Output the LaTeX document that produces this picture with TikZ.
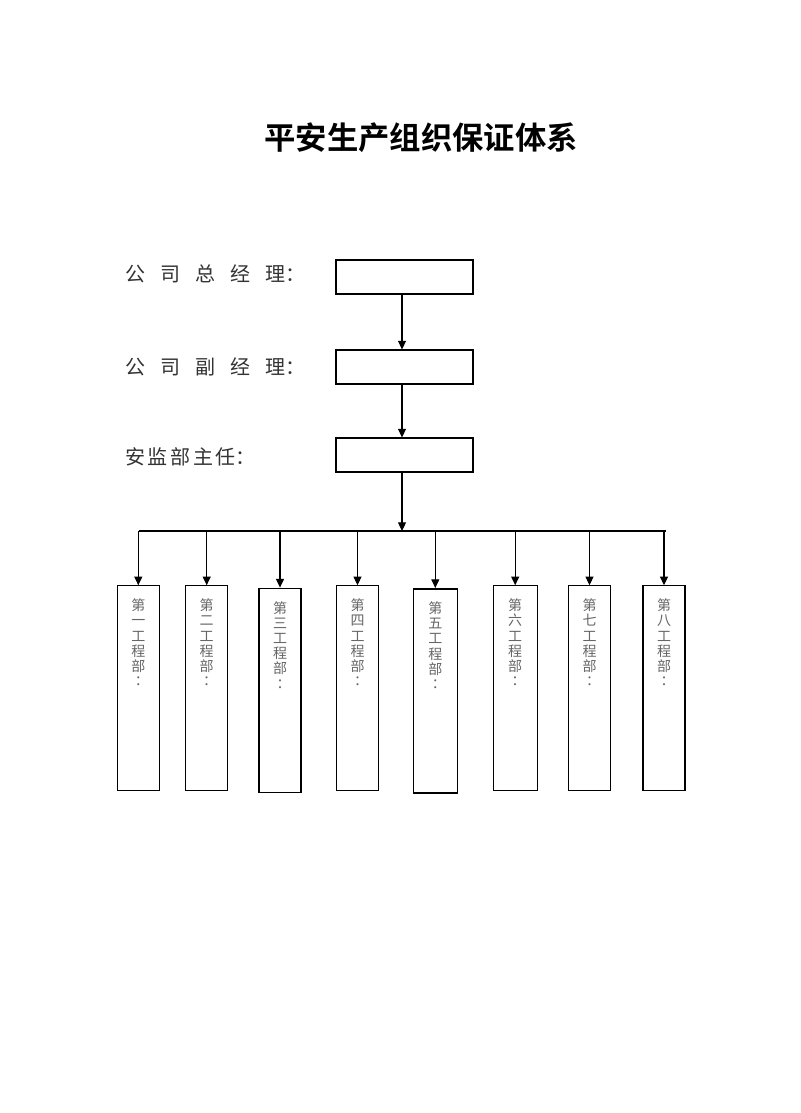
\documentclass[tikz,border=0pt]{standalone}
\usepackage{fontspec}
\newfontfamily\cjk[BoldFont={Noto Sans CJK SC Bold}]{Noto Sans CJK SC}
\newfontfamily\cjktc{Noto Sans CJK TC}
\usetikzlibrary{arrows.meta}
\definecolor{lblgray}{HTML}{333333}
\definecolor{txtgray}{HTML}{666666}
\begin{document}
\begin{tikzpicture}[x=0.75pt,y=-0.75pt,
  topbox/.style={draw,line width=0.8pt,inner sep=0pt,minimum width=102.75pt,minimum height=25.5pt},
  deptbox/.style={draw,line width=0.8pt,inner sep=0pt,minimum width=31.5pt,minimum height=153.2pt},
  thickbox/.style={line width=1.2pt},
  depttext/.style={anchor=north,inner sep=0pt,align=center,text=txtgray,font=\cjk\fontsize{10.5}{11.4}\selectfont},
  lbl/.style={anchor=west,inner sep=0pt,text=lblgray,font=\cjk\fontsize{15}{15}\selectfont},
  conn/.style={line width=0.8pt},
  arr/.style={line width=0.8pt,-{Triangle[length=6.5pt,width=6pt]}}
]
\fill[white] (0,0) rectangle (800,1113);
\useasboundingbox (0,0) rectangle (800,1113);

% title
\node[inner sep=0pt,font=\cjk\bfseries\fontsize{23.5}{24}\selectfont] (title) at (421,138) {平安生产组织保证体系};

% left labels
\node[lbl] (l1) at (125,274) {公\hspace{11.25pt}司\hspace{11.25pt}总\hspace{11.25pt}经\hspace{11.25pt}理：};
\node[lbl] (l2) at (125,367) {公\hspace{11.25pt}司\hspace{11.25pt}副\hspace{11.25pt}经\hspace{11.25pt}理：};
\node[lbl] (l3) at (125,457) {安\hspace{2pt}监\hspace{2pt}部\hspace{2pt}主\hspace{2pt}任：};

% top boxes
\node[topbox] (b1) at (404.5,277) {};
\node[topbox] (b2) at (404.5,367) {};
\node[topbox] (b3) at (404.5,455) {};

\coordinate (ax) at (402,0);
\coordinate (bus) at (402,531);
\coordinate (busL) at (139,531);
\coordinate (busR) at (666,531);

\draw[arr] (b1.south -| ax) -- (b2.north -| ax);
\draw[arr] (b2.south -| ax) -- (b3.north -| ax);
\draw[arr] (b3.south -| ax) -- (bus);
\draw[conn] (busL) -- (busR);

% department boxes
\node[deptbox] (d1) at (138.3,687.9) {};
\node[deptbox] (d2) at (206.7,687.9) {};
\node[deptbox,thickbox] (d3) at (280.0,690.5) {};
\node[deptbox] (d4) at (357.5,687.9) {};
\node[deptbox,thickbox,minimum width=33pt] (d5) at (435.3,690.9) {};
\node[deptbox,minimum width=32.8pt] (d6) at (515.2,687.9) {};
\node[deptbox] (d7) at (589.5,687.9) {};
\node[deptbox] (d8) at (664.0,687.9) {};

\foreach \i/\n in {1/一,2/二,3/三,4/四,5/五,6/六,7/七,8/八}{
  \draw[arr] (bus -| d\i.north) -- (d\i.north);
  \node[depttext] (t\i) at ([yshift=-10pt]d\i.north) {第\\\n\\工\\程\\部\\{\cjktc ：}};
}
\end{tikzpicture}
\end{document}
